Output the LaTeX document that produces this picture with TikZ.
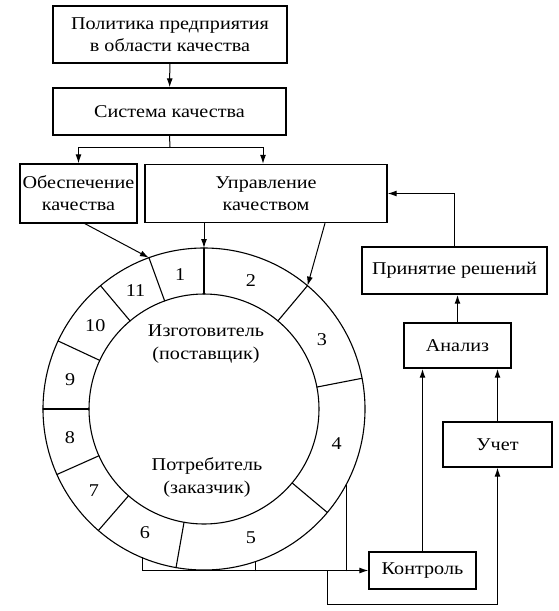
\documentclass[tikz,border=0pt]{standalone}
\usepackage{fontspec}
\setmainfont{Liberation Serif}[FakeStretch=1.12]
\usetikzlibrary{arrows.meta}

\begin{document}
\begin{tikzpicture}[x=1pt,y=-1pt,line cap=round]
	\tikzstyle{blok}=[draw,line width=1.4pt,inner sep=0pt,align=center,font=\fontsize{18}{22}\selectfont];
	\tikzstyle{strel}=[line width=1pt,-{Latex[length=9pt,width=6pt]}];
	\tikzstyle{nomer}=[font=\fontsize{18}{20}\selectfont];
	\tikzstyle{krug}=[line width=1.1pt];
	\useasboundingbox (0,0) rectangle (559,611);

	% bloki
	\node[blok,minimum width=234pt,minimum height=57pt] (politika) at (170,34.5) {Политика предприятия\\в области качества};
	\node[blok,minimum width=233pt,minimum height=47pt] (sistema) at (169.5,111.5) {Система качества};
	\node[blok,minimum width=117pt,minimum height=59pt] (obesp) at (78.5,193.5) {Обеспечение\\качества};
	\node[blok,minimum width=242pt,minimum height=58pt] (uprav) at (266,193.5) {Управление\\качеством};
	\node[blok,minimum width=185pt,minimum height=47pt] (reshen) at (454.5,270.5) {Принятие решений};
	\node[blok,minimum width=107pt,minimum height=45pt] (analiz) at (457.5,345.5) {Анализ};
	\node[blok,minimum width=109pt,minimum height=45pt] (uchet) at (497.5,444.5) {Учет};
	\node[blok,minimum width=107pt,minimum height=37pt] (kontrol) at (422.5,570.5) {Контроль};

	% koltso
	\begin{scope}[shift={(204,409)},y=1pt,krug]
	\draw (0,0) circle[radius=161];
	\draw (0,0) circle[radius=115];
	\draw (90:115)  -- (90:161)  coordinate (v90);
	\draw (50:115)  -- (50:161)  coordinate (v50);
	\draw (11:115)  -- (11:161);
	\draw (320:115) -- (320:161);
	\draw (260:115) -- (260:161);
	\draw (229:115) -- (229:161);
	\draw (204:115) -- (204:161);
	\draw (180:115) -- (180:161);
	\draw (155:115) -- (155:161);
	\draw (130:115) -- (130:161);
	\draw (110:115) -- (110:161) coordinate (v110);
	\coordinate (k6) at (247.4:161);
	\coordinate (k5) at (-71.5:161);
	\coordinate (k4) at (-28.1:161);
	\node[nomer] (n1)  at (100:137)   {1};
	\node[nomer] (n2)  at (70:137)    {2};
	\node[nomer] (n3)  at (30.5:137)  {3};
	\node[nomer] (n4)  at (-14.5:137) {4};
	\node[nomer] (n5)  at (-70:137)   {5};
	\node[nomer] (n6)  at (244.5:137) {6};
	\node[nomer] (n7)  at (216.5:137) {7};
	\node[nomer] (n8)  at (192:137)   {8};
	\node[nomer] (n9)  at (167.5:137) {9};
	\node[nomer] (n10) at (142.5:137) {10};
	\node[nomer] (n11) at (120:137)   {11};
	\end{scope}
	\node[align=center,font=\fontsize{18}{23}\selectfont] (izgot) at (206,344.5) {Изготовитель\\(поставщик)};
	\node[align=center,font=\fontsize{18}{23}\selectfont] (potreb) at (207,477.5) {Потребитель\\(заказчик)};

	% svyazi
	\coordinate (razv) at (170,147);
	\coordinate (otv) at (327,570.5);
	\coordinate (niz) at (327,604);
	\draw[strel] (politika) -- (sistema);
	\draw[line width=1pt] (sistema.south) -- (razv);
	\draw[strel] (razv) -| (obesp.north);
	\draw[strel] (razv) -| ([xshift=-3pt]uprav.north);
	\draw[strel] (uprav.south -| v90) -- (v90);
	\draw[strel] ([xshift=59pt]uprav.south) -- (v50);
	\draw[strel] ([xshift=6.5pt]obesp.south) -- (v110);
	\draw[strel] (reshen.north) |- (uprav.east);
	\draw[strel,line width=1.4pt] (analiz.north) -- (analiz.north |- reshen.south);
	\draw[strel,line width=1.4pt] (kontrol.north) -- (kontrol.north |- analiz.south);
	\draw[strel,line width=1.4pt] (uchet.north) -- (uchet.north |- analiz.south);
	\draw[strel] (k6) |- (kontrol.west);
	\draw[line width=1pt] (k5) -- (k5 |- kontrol.west);
	\draw[line width=1pt] (k4) -- (k4 |- kontrol.west);
	\draw[strel] (otv) -- (niz) -| (uchet.south);
\end{tikzpicture}
\end{document}
